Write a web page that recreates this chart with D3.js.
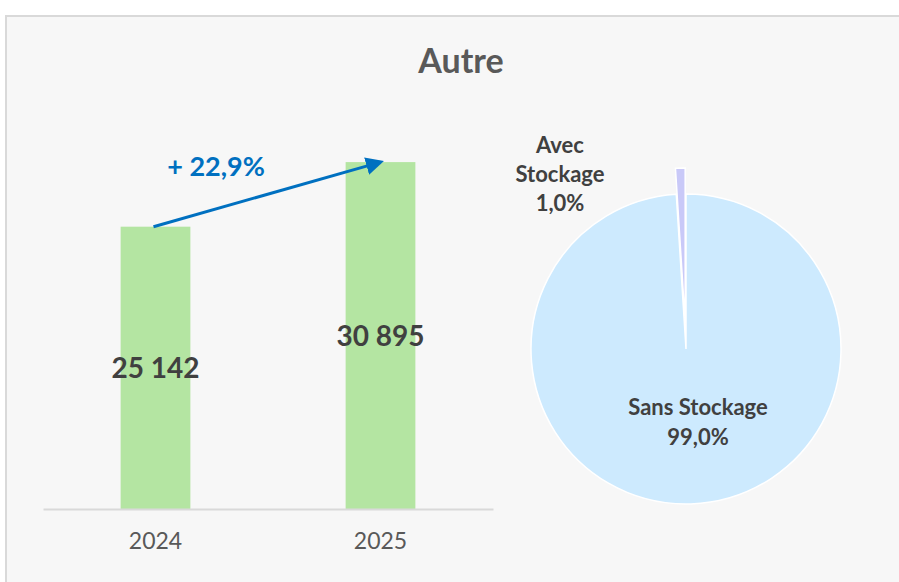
<!DOCTYPE html>
<html>
<head>
<meta charset="utf-8">
<script src="https://cdn.jsdelivr.net/npm/d3@7"></script>
<style>
  body { margin: 0; background: #fff; }
  svg text { font-family: Lato, "Noto Sans", sans-serif; }
</style>
</head>
<body>
<svg id="chart" width="899" height="582"></svg>
<script>
var years = ["2024", "2025"];
var totals = [25142, 30895];
var pieLabels = ["Sans Stockage", "Avec Stockage"];
var pieShares = [99.0, 1.0];

var svg = d3.select("#chart");

// panel background
svg.append("rect")
  .attr("x", 6).attr("y", 16)
  .attr("width", 920).attr("height", 600)
  .attr("fill", "#f7f7f7")
  .attr("stroke", "#d9d9d9")
  .attr("stroke-width", 2);

svg.append("text")
  .attr("x", 461).attr("y", 73)
  .attr("text-anchor", "middle")
  .attr("font-size", 34).attr("font-weight", "bold")
  .attr("fill", "#595959")
  .text("Autre");

// bar chart
var x = d3.scaleBand().domain(years).range([43, 493]).padding(0);
var y = d3.scaleLinear().domain([0, 35000]).range([509, 116]);
var barW = x.bandwidth() * 0.31;

svg.selectAll(".bar")
  .data(years)
  .enter().append("rect")
  .attr("class", "bar")
  .attr("x", function (d) { return x(d) + (x.bandwidth() - barW) / 2; })
  .attr("y", function (d, i) { return y(totals[i]); })
  .attr("width", barW)
  .attr("height", function (d, i) { return y(0) - y(totals[i]); })
  .attr("fill", "#b4e5a2");

var fmt = d3.formatLocale({ decimal: ",", thousands: " ", grouping: [3], currency: ["", ""] });

svg.selectAll(".val")
  .data(years)
  .enter().append("text")
  .attr("class", "val")
  .attr("x", function (d) { return x(d) + x.bandwidth() / 2; })
  .attr("y", function (d, i) { return (y(totals[i]) + y(0)) / 2; })
  .attr("dy", "0.36em")
  .attr("text-anchor", "middle")
  .attr("font-size", 28).attr("font-weight", "bold")
  .attr("fill", "#404040")
  .text(function (d, i) { return fmt.format(",d")(totals[i]); });

var xAxis = svg.append("g")
  .attr("transform", "translate(0," + y(0) + ")")
  .call(d3.axisBottom(x).tickSize(0).tickPadding(24));
xAxis.select(".domain").attr("stroke", "#d9d9d9").attr("stroke-width", 2);
xAxis.selectAll("text")
  .attr("font-size", 23).attr("fill", "#595959")
  .style("font-family", "Lato, 'Noto Sans', sans-serif");

// growth arrow
svg.append("defs").append("marker")
  .attr("id", "head")
  .attr("viewBox", "0 0 10 10")
  .attr("refX", 8).attr("refY", 5)
  .attr("markerWidth", 6).attr("markerHeight", 6)
  .attr("orient", "auto")
  .append("path")
  .attr("d", "M0,0 L10,5 L0,10 z")
  .attr("fill", "#0070c0");

var x1 = x(years[0]) + x.bandwidth() / 2 - 2, y1 = y(totals[0]);
var x2 = x(years[1]) + x.bandwidth() / 2, y2 = y(totals[1]);
svg.append("line")
  .attr("x1", x1).attr("y1", y1)
  .attr("x2", x2).attr("y2", y2)
  .attr("stroke", "#0070c0").attr("stroke-width", 3)
  .attr("marker-end", "url(#head)");

var growth = (totals[1] / totals[0] - 1) * 100;
svg.append("text")
  .attr("x", 216).attr("y", 176)
  .attr("text-anchor", "middle")
  .attr("font-size", 27).attr("font-weight", "bold")
  .attr("fill", "#0070c0")
  .text("+ " + fmt.format(".1f")(growth) + "%");

// pie
var cx = 686, cy = 349, r = 155;
var pie = d3.pie().sort(null).value(function (d) { return d; });
var arc = d3.arc().innerRadius(0).outerRadius(r);
var arcs = pie(pieShares);
var pieColors = ["#cdeafe", "#c9c9f8"];

var pg = svg.append("g").attr("transform", "translate(" + cx + "," + cy + ")");
pg.selectAll("path")
  .data(arcs)
  .enter().append("path")
  .attr("transform", function (d, i) {
    if (i === 0) return null;
    var a = (d.startAngle + d.endAngle) / 2, off = 26;
    return "translate(" + (Math.sin(a) * off) + "," + (-Math.cos(a) * off) + ")";
  })
  .attr("d", arc)
  .attr("fill", function (d, i) { return pieColors[i]; })
  .attr("stroke", "#ffffff")
  .attr("stroke-width", 1.5);

function pct(v) { return fmt.format(".1f")(v) + "%"; }

var lab1 = svg.append("text")
  .attr("text-anchor", "middle")
  .attr("font-size", 22).attr("font-weight", "bold")
  .attr("fill", "#404040");
lab1.append("tspan").attr("x", 698).attr("y", 415).text(pieLabels[0]);
lab1.append("tspan").attr("x", 698).attr("y", 445).text(pct(pieShares[0]));

var lab2 = svg.append("text")
  .attr("text-anchor", "middle")
  .attr("font-size", 22).attr("font-weight", "bold")
  .attr("fill", "#404040");
var words = pieLabels[1].split(" ");
lab2.append("tspan").attr("x", 560).attr("y", 153).text(words[0]);
lab2.append("tspan").attr("x", 560).attr("y", 182).text(words[1]);
lab2.append("tspan").attr("x", 560).attr("y", 211).text(pct(pieShares[1]));
</script>
</body>
</html>
